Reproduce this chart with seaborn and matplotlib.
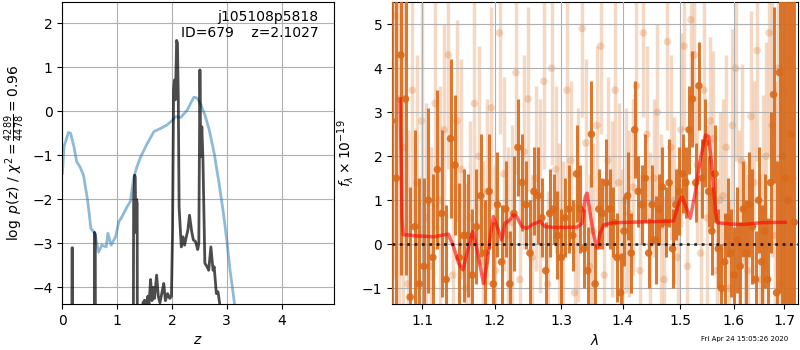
import numpy as np
import seaborn as sns
import matplotlib
matplotlib.use("Agg")
import matplotlib.pyplot as plt
from matplotlib.ticker import FixedLocator, NullLocator, FixedFormatter

# redshift fit: chi2-like curve (blue) and log p(z) (dark)
chi_z = [0.00, 0.03, 0.11, 0.15, 0.21, 0.26, 0.32, 0.385, 0.46, 0.52, 0.59, 0.66, 0.72, 0.80,
         0.83, 0.89, 0.97, 1.03, 1.09, 1.18, 1.24, 1.30, 1.36, 1.43, 1.55, 1.67, 1.79, 1.91,
         2.01, 2.07, 2.16, 2.28, 2.34, 2.40, 2.46, 2.53, 2.60, 2.68, 2.77, 2.86, 2.94, 3.00,
         3.06, 3.14, 3.17]
chi_val = [-1.41, -0.80, -0.48, -0.50, -0.80, -1.14, -1.26, -1.45, -2.02, -2.66, -2.77, -3.20,
           -3.04, -3.08, -2.77, -3.04, -2.85, -2.51, -2.39, -2.17, -2.05, -1.52, -1.26, -1.03,
           -0.73, -0.46, -0.39, -0.31, -0.20, -0.12, -0.14, 0.03, 0.18, 0.32, 0.30, 0.14, -0.08,
           -0.42, -0.95, -1.64, -2.32, -2.92, -3.61, -4.36, -4.67]

pz_z = [0.00, 0.17, 0.175, 0.185, 0.19, 0.58, 0.585, 0.60, 0.605, 1.29, 1.30, 1.32, 1.33, 1.34,
        1.355, 1.365, 1.37, 1.45, 1.47, 1.50, 1.53, 1.56, 1.58, 1.61, 1.635, 1.66, 1.68, 1.72,
        1.75, 1.78, 1.82, 1.85, 1.88, 1.92, 1.96, 1.99, 2.01, 2.03, 2.045, 2.06, 2.075, 2.085,
        2.10, 2.115, 2.13, 2.17, 2.20, 2.23, 2.26, 2.29, 2.32, 2.36, 2.39, 2.43, 2.47, 2.49,
        2.51, 2.525, 2.545, 2.565, 2.60, 2.64, 2.67, 2.71, 2.75, 2.77, 2.81, 2.84, 2.87, 2.90,
        3.00, 5.00]
pz_val = [-8, -8, -3.1, -3.1, -8, -8, -2.75, -2.8, -8, -8, -2.0, -1.45, -1.5, -2.75,
          -2.0, -2.1, -8, -6, -4.35, -4.29, -4.4, -4.2, -4.4, -3.82, -4.3, -4.0, -4.25, -3.72,
          -4.2, -4.35, -4.1, -3.91, -4.3, -4.14, -4.25, -4.2, -2.77, 0.5, 0.71, 0.26, 1.0, 1.61,
          1.55, 0.33, -2.17, -3.08, -2.85, -3.04, -2.86, -2.70, -2.36, -2.73, -2.92, -2.96, -3.14, -3.0,
          0.94, -1.03, -0.35, -1.07, -3.45, -3.53, -3.61, -3.08, -3.61, -3.53, -4.14, -4.10, -4.36, -5.0,
          -8, -8]

# spectrum, set 1 (dark)
dark_wave = [1.060, 1.066, 1.072, 1.078, 1.084, 1.090, 1.096, 1.102, 1.108, 1.114,
             1.120, 1.126, 1.132, 1.138, 1.144, 1.150, 1.156, 1.162, 1.168, 1.174,
             1.180, 1.186, 1.192, 1.198, 1.204, 1.210, 1.216, 1.222, 1.228, 1.234,
             1.240, 1.246, 1.252, 1.258, 1.264, 1.270, 1.276, 1.282, 1.288, 1.294,
             1.300, 1.306, 1.312, 1.318, 1.324, 1.330, 1.336, 1.342, 1.348, 1.354,
             1.360, 1.366, 1.372, 1.378, 1.384, 1.390, 1.396, 1.402, 1.408, 1.414,
             1.420, 1.426, 1.432, 1.438, 1.444, 1.450, 1.456, 1.462, 1.468, 1.474,
             1.480, 1.486, 1.492, 1.498, 1.504, 1.510, 1.516, 1.522, 1.528, 1.534,
             1.540, 1.546, 1.552, 1.558, 1.564, 1.570, 1.576, 1.582, 1.588, 1.594,
             1.600, 1.606, 1.612, 1.618, 1.624, 1.630, 1.636, 1.642, 1.648, 1.654,
             1.660, 1.666, 1.672, 1.678, 1.684, 1.690, 1.696, 1.702, 1.708, 1.714,
             1.720]
dark_flux = [2.8, 1.5, 4.3, 3.3, -1.2, 0.4, -0.9, -0.5, 1.0, -0.3,
             1.7, 0.7, -0.8, 2.4, 1.8, -0.3, 0.2, 0.2, -0.7, 0.4,
             1.1, -0.2, 1.2, -0.9, 0.9, -0.4, 0.8, -0.9, 0.7, 2.2,
             1.4, 0.9, -0.2, 1.2, 1.1, 0.6, -0.6, 0.7, 0.8, 0.2,
             -0.3, 0.6, 0.8, 0.2, 1.6, 0.8, -0.1, -0.6, 2.5, -0.9,
             0.8, 0.7, 1.4, 0.8, 0.5, -0.3, -1.1, 0.3, 1.1, -0.2,
             2.6, 1.2, 0.9, 1.5, -0.2, 0.9, 0.1, 0.8, 1.3, 0.5,
             1.4, -0.1, 0.9, 1.2, 1.6, 1.4, 2.6, 3.3, 1.4, 3.6,
             1.5, 2.3, 1.2, 0.3, 1.6, -0.1, -1.0, -0.4, 0.6, -0.2,
             -0.7, 0.1, -0.5, 0.8, -0.2, 0.9, 0.4, -0.8, 1.0, -0.4,
             0.3, -0.8, 1.4, 3.4, -1.1, 3.9, 2.0, 1.5, 1.0, 2.5,
             0.5]
dark_err = [6.0, 6.0, 5.0, 4.0, 2.5, 2.2, 2.4, 2.0, 2.1, 1.9,
            1.8, 1.9, 1.7, 1.8, 1.6, 1.7, 1.5, 1.4, 1.5, 1.3,
            1.4, 1.2, 1.3, 1.4, 1.2, 1.3, 1.1, 1.2, 1.3, 1.1,
            1.1, 1.0, 1.2, 1.0, 1.1, 0.9, 1.1, 1.0, 0.8, 1.0,
            1.1, 0.9, 1.0, 0.8, 1.1, 1.0, 0.9, 1.0, 1.2, 0.9,
            0.9, 0.8, 1.0, 0.9, 0.8, 1.0, 0.9, 0.8, 1.0, 0.9,
            1.1, 0.8, 0.9, 1.0, 0.8, 0.9, 1.0, 0.8, 0.9, 0.8,
            1.0, 0.9, 0.8, 1.0, 0.9, 0.8, 1.0, 1.1, 0.9, 1.0,
            0.9, 1.0, 0.8, 1.0, 1.1, 0.9, 1.0, 1.1, 0.9, 1.0,
            1.1, 1.2, 1.0, 1.1, 1.2, 1.2, 1.3, 1.1, 1.2, 1.3,
            1.3, 1.4, 1.6, 2.0, 3.0, 5.0, 6.0, 6.0, 7.0, 7.0,
            8.0]

# spectrum, set 2 (light)
light_wave = [1.063, 1.069, 1.075, 1.081, 1.087, 1.093, 1.099, 1.105, 1.111, 1.117,
              1.123, 1.129, 1.135, 1.141, 1.147, 1.153, 1.159, 1.165, 1.171, 1.177,
              1.183, 1.189, 1.195, 1.201, 1.207, 1.213, 1.219, 1.225, 1.231, 1.237,
              1.243, 1.249, 1.255, 1.261, 1.267, 1.273, 1.279, 1.285, 1.291, 1.297,
              1.303, 1.309, 1.315, 1.321, 1.327, 1.333, 1.339, 1.345, 1.351, 1.357,
              1.363, 1.369, 1.375, 1.381, 1.387, 1.393, 1.399, 1.405, 1.411, 1.417,
              1.423, 1.429, 1.435, 1.441, 1.447, 1.453, 1.459, 1.465, 1.471, 1.477,
              1.483, 1.489, 1.495, 1.501, 1.507, 1.513, 1.519, 1.525, 1.531, 1.537,
              1.543, 1.549, 1.555, 1.561, 1.567, 1.573, 1.579, 1.585, 1.591, 1.597,
              1.603, 1.609, 1.615, 1.621, 1.627, 1.633, 1.639, 1.645, 1.651, 1.657,
              1.663, 1.669, 1.675, 1.681, 1.687, 1.693, 1.699, 1.705, 1.711, 1.717]
light_flux = [5.2, 3.3, 2.2, -0.9, 3.5, 1.4, 2.8, 0.6, -0.5, 3.2,
              1.0, 2.6, 4.3, -0.7, 2.8, 1.7, -1.0, 0.6, 3.2, 2.0,
              -0.4, 1.2, 3.1, -0.6, 4.8, 1.6, 0.2, 0.5, 3.9, -0.8,
              2.1, 3.3, -0.3, 1.5, 1.1, 3.7, -0.9, 4.0, 1.7, 0.2,
              -0.2, 3.5, 1.9, -1.1, 0.9, 4.9, 2.3, -0.5, 0.3, 2.7,
              4.5, -0.7, 1.9, 0.8, 3.5, 1.4, -0.3, 1.0, 0.7, 1.3,
              3.6, -0.6, 4.8, 2.5, 0.0, 1.5, 3.0, 0.4, -0.8, 4.6,
              2.2, 1.0, -0.3, 2.6, 4.5, -0.5, 5.1, 4.3, 1.8, -0.2,
              3.5, 0.6, 2.8, 2.4, -0.6, 1.0, 1.1, 2.2, -1.0, 2.7,
              4.0, 0.3, 1.9, -0.4, -0.6, 2.9, 1.4, 4.4, -0.8, 0.8,
              2.0, 4.8, 2.7, 0.2, 4.0, -0.9, 3.5, 1.0, 4.2, 1.5]
light_err = [6.0, 5.0, 4.0, 3.5, 3.0, 2.9, 2.8, 2.6, 2.7, 2.9,
             2.6, 2.4, 2.6, 2.5, 2.3, 2.5, 2.4, 2.2, 2.4, 2.5,
             2.3, 2.1, 2.3, 2.4, 2.3, 2.2, 2.0, 2.2, 2.3, 2.1,
             2.2, 2.1, 1.9, 2.1, 2.2, 2.0, 2.1, 2.2, 1.9, 2.1,
             2.1, 2.0, 1.8, 2.0, 2.2, 2.0, 1.9, 2.1, 2.0, 1.8,
             2.0, 2.1, 1.9, 2.0, 2.2, 1.8, 2.0, 2.1, 1.9, 2.0,
             2.0, 2.2, 1.9, 2.0, 2.1, 1.8, 2.0, 2.1, 1.9, 2.0,
             2.1, 1.9, 2.0, 2.2, 1.9, 2.0, 2.1, 2.0, 1.8, 2.0,
             2.0, 2.1, 1.9, 2.0, 2.1, 2.0, 2.2, 2.1, 2.0, 2.2,
             2.1, 2.3, 2.2, 2.3, 2.2, 2.4, 2.3, 2.5, 2.4, 2.6,
             2.6, 2.8, 3.0, 3.5, 4.0, 5.0, 6.0, 6.0, 6.0, 6.0]

# best-fit model
model_wave = [1.071, 1.0735, 1.075, 1.093, 1.115, 1.135, 1.142, 1.149, 1.155, 1.163,
              1.169, 1.175, 1.182, 1.184, 1.189, 1.193, 1.198, 1.205, 1.210, 1.215,
              1.222, 1.227, 1.232, 1.240, 1.247, 1.257, 1.267, 1.275, 1.293, 1.325,
              1.333, 1.338, 1.341, 1.346, 1.351, 1.357, 1.362, 1.368, 1.384, 1.412,
              1.470, 1.488, 1.497, 1.503, 1.509, 1.518, 1.527, 1.5365, 1.546, 1.552,
              1.558, 1.5645, 1.568, 1.593, 1.619, 1.652, 1.702]
model_flux = [3.3, 0.6, 0.22, 0.19, 0.17, 0.23, -0.05, -0.43, -0.58, -0.05,
              0.29, -0.13, -0.73, -0.89, -0.43, 0.10, 0.63, 0.33, 0.10, 0.48,
              0.55, 0.67, 0.63, 0.40, 0.36, 0.46, 0.52, 0.40, 0.38, 0.39,
              0.48, 1.08, 1.16, 0.70, 0.25, -0.09, 0.25, 0.44, 0.49, 0.50,
              0.52, 0.53, 0.93, 1.08, 0.89, 0.59, 1.16, 1.92, 2.48, 2.45,
              1.77, 0.78, 0.49, 0.46, 0.45, 0.49, 0.50]

wave_ticks = [1.1, 1.2, 1.3, 1.4, 1.5, 1.6, 1.7]

spec_color = "#d96a1a"

fig = plt.figure(figsize=(8, 3.5), dpi=100)
ax1 = fig.add_axes([0.078, 0.131, 0.339, 0.863])
ax2 = fig.add_axes([0.490, 0.131, 0.5075, 0.863])

# left panel
sns.lineplot(x=chi_z, y=chi_val, ax=ax1, color="C0", alpha=0.5, lw=2,
             estimator=None, sort=False)
sns.lineplot(x=pz_z, y=pz_val, ax=ax1, color="k", alpha=0.7, lw=2,
             estimator=None, sort=False)
ax1.set_xlim(0, 4.95)
ax1.set_ylim(-4.38, 2.48)
ax1.set_xticks([0, 1, 2, 3, 4])
ax1.set_yticks([-4, -3, -2, -1, 0, 1, 2])
ax1.grid(True)
ax1.set_axisbelow(True)
ax1.set_xlabel("$z$")
ax1.set_ylabel(r"$\log\ p(z)$ / $\chi^2=\frac{4289}{4478}=0.96$")
ax1.text(0.945, 0.975, "j105108p5818\nID=679    z=2.1027", transform=ax1.transAxes,
         ha="right", va="top", fontsize=10)

# right panel
ax2.set_xscale("log")
ax2.vlines(light_wave, np.array(light_flux) - np.array(light_err),
           np.array(light_flux) + np.array(light_err), color=spec_color, alpha=0.25, lw=2.5)
sns.scatterplot(x=light_wave, y=light_flux, ax=ax2, color=spec_color, alpha=0.25,
                s=30, edgecolor="none", zorder=2)
ax2.vlines(dark_wave, np.array(dark_flux) - np.array(dark_err),
           np.array(dark_flux) + np.array(dark_err), color=spec_color, alpha=0.9, lw=2.2, zorder=3)
sns.scatterplot(x=dark_wave, y=dark_flux, ax=ax2, color=spec_color, alpha=0.9,
                s=30, edgecolor="none", zorder=3)
sns.lineplot(x=model_wave, y=model_flux, ax=ax2, color="r", alpha=0.6, lw=2.5,
             estimator=None, sort=False, zorder=5)
ax2.set_xlim(1.0606, 1.728)
ax2.set_ylim(-1.36, 5.5)
ax2.axhline(0, color="k", ls=":", lw=2, alpha=0.8, zorder=6)
ax2.xaxis.set_major_locator(FixedLocator(wave_ticks))
ax2.xaxis.set_major_formatter(FixedFormatter([f"{t:.1f}" for t in wave_ticks]))
ax2.xaxis.set_minor_locator(NullLocator())
ax2.set_yticks([-1, 0, 1, 2, 3, 4, 5])
ax2.grid(True)
ax2.set_axisbelow(False)
for gl in ax2.get_xgridlines() + ax2.get_ygridlines():
    gl.set_zorder(4)
ax2.set_xlabel(r"$\lambda$")
ax2.set_ylabel(r"$f_\lambda\times10^{-19}$")

fig.text(0.985, 0.031, "Fri Apr 24 15:05:26 2020", ha="right", va="center", fontsize=5)

fig.savefig("out.png", dpi=100)
